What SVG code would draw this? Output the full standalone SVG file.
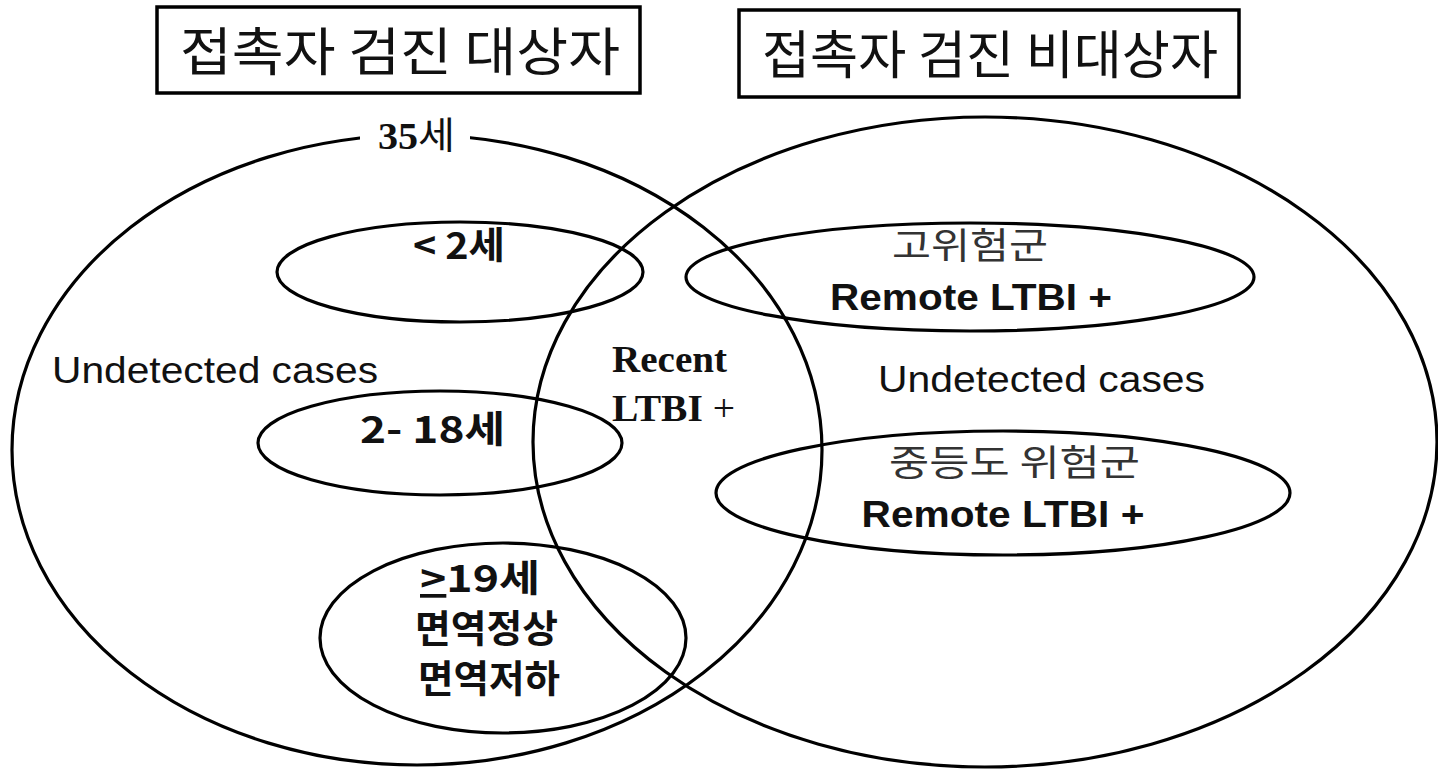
<svg xmlns="http://www.w3.org/2000/svg" width="1438" height="770" viewBox="0 0 1438 770">
  <style>
    .ring { fill: none; stroke: #000; stroke-width: 3.2; }
    .box { fill: #fff; stroke: #000; stroke-width: 3.5; }
    .title { font-family: "Noto Sans CJK KR", "Liberation Sans", sans-serif; font-size: 52px; fill: #111; }
    .plain { font-family: "Liberation Sans", "Noto Sans CJK KR", sans-serif; fill: #111; }
    .bold { font-family: "Liberation Sans", "Noto Sans CJK KR", sans-serif; font-weight: bold; fill: #111; }
    .serif { font-family: "Liberation Serif", "Noto Sans CJK KR", serif; font-weight: bold; fill: #111; }
    .kr { font-family: "Noto Sans CJK KR", "Liberation Sans", sans-serif; fill: #333; }
    .krb { font-family: "Noto Sans CJK KR", "Liberation Sans", sans-serif; font-weight: bold; fill: #111; }
  </style>
  <rect width="1438" height="770" fill="#fff"/>

  <!-- heading boxes -->
  <g id="title-left">
    <rect class="box" x="157" y="7" width="483" height="86"/>
    <text class="title" x="180" y="71" textLength="440" lengthAdjust="spacingAndGlyphs">접촉자 검진 대상자</text>
  </g>
  <g id="title-right">
    <rect class="box" x="739" y="10" width="500" height="87"/>
    <text class="title" x="762" y="74" textLength="456" lengthAdjust="spacingAndGlyphs">접촉자 검진 비대상자</text>
  </g>

  <!-- outer sets -->
  <g id="set-left">
    <ellipse class="ring" cx="417" cy="450" rx="405" ry="315"/>
    <rect x="360" y="116" width="110" height="38" fill="#fff"/>
    <text class="serif" x="378" y="149" font-size="37" textLength="77" lengthAdjust="spacingAndGlyphs">35<tspan font-family="Noto Sans CJK KR, sans-serif" font-weight="normal">세</tspan></text>
    <text class="plain" x="52" y="383" font-size="36" textLength="326" lengthAdjust="spacingAndGlyphs">Undetected cases</text>
  </g>
  <g id="set-right">
    <ellipse class="ring" cx="985" cy="442" rx="452" ry="325"/>
    <text class="plain" x="878" y="392" font-size="36" textLength="327" lengthAdjust="spacingAndGlyphs">Undetected cases</text>
  </g>

  <!-- overlap label -->
  <g id="overlap">
    <text class="serif" x="612" y="372" font-size="38" textLength="115" lengthAdjust="spacingAndGlyphs">Recent</text>
    <text class="serif" x="612" y="421" font-size="38" textLength="123" lengthAdjust="spacingAndGlyphs">LTBI <tspan font-weight="normal">+</tspan></text>
  </g>

  <!-- age groups -->
  <g id="age-under2">
    <ellipse class="ring" cx="460" cy="272" rx="183" ry="50"/>
    <text class="krb" x="413" y="259" font-size="37" textLength="92" lengthAdjust="spacingAndGlyphs">&lt; 2세</text>
  </g>
  <g id="age-2-18">
    <ellipse class="ring" cx="440" cy="443" rx="182" ry="52"/>
    <text class="krb" x="360" y="443" font-size="37" textLength="145" lengthAdjust="spacingAndGlyphs">2- 18세</text>
  </g>
  <g id="age-19plus">
    <ellipse class="ring" cx="503" cy="638" rx="183" ry="95"/>
    <text class="krb" x="420" y="592" font-size="37" textLength="120" lengthAdjust="spacingAndGlyphs"><tspan text-decoration="underline">&gt;</tspan>19세</text>
    <text class="krb" x="415" y="642" font-size="38" textLength="143" lengthAdjust="spacingAndGlyphs">면역정상</text>
    <text class="krb" x="418" y="692" font-size="38" textLength="142" lengthAdjust="spacingAndGlyphs">면역저하</text>
  </g>

  <!-- risk groups -->
  <g id="risk-high">
    <ellipse class="ring" cx="970" cy="277" rx="284" ry="54"/>
    <text class="kr" x="892" y="259" font-size="36" textLength="156" lengthAdjust="spacingAndGlyphs">고위험군</text>
    <text class="bold" x="971" y="310" font-size="36" text-anchor="middle" textLength="282" lengthAdjust="spacingAndGlyphs">Remote LTBI +</text>
  </g>
  <g id="risk-moderate">
    <ellipse class="ring" cx="1003" cy="493" rx="287" ry="62"/>
    <text class="kr" x="889" y="476" font-size="36" textLength="251" lengthAdjust="spacingAndGlyphs">중등도 위험군</text>
    <text class="bold" x="1003" y="527" font-size="36" text-anchor="middle" textLength="283" lengthAdjust="spacingAndGlyphs">Remote LTBI +</text>
  </g>
</svg>
